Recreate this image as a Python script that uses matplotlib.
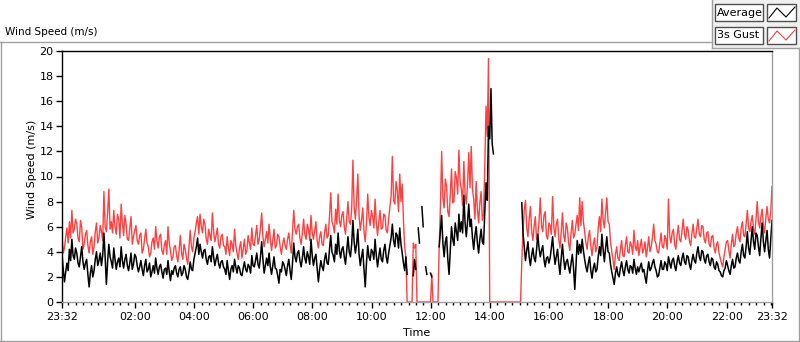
import numpy as np
import pandas as pd
import matplotlib
matplotlib.use("Agg")
import matplotlib.pyplot as plt
import matplotlib.dates as mdates
from matplotlib.ticker import FixedLocator
from matplotlib.lines import Line2D
from matplotlib.patches import Rectangle

nan = np.nan

# 2.5-minute samples, 23:32 -> 23:32 next day (one row per clock hour, :02 .. :59.5)
gust = [
    5.4, 3.9, 4.3, 5.2, 5.9, 4.7, 6.4, 5.1, 7.3, 5.5, 5.8, 6.6,  # 23:32
    6.2, 5.1, 4.8, 6.5, 5.9, 4.2, 4.6, 5.4, 5.7, 4.5, 3.9, 4.8,
    5.2, 3.8, 4.4, 5.6, 6.3, 4.7, 5.1, 6.1, 5.6, 4.9, 8.8, 6.0,  # 00
    5.6, 7.1, 9.0, 5.8, 6.4, 5.5, 7.3, 6.0, 5.4, 7.0, 6.6, 5.1,
    7.8, 6.3, 5.3, 6.9, 6.2, 5.0, 4.9, 5.9, 6.8, 4.6, 5.2, 5.7,  # 01
    6.1, 4.9, 4.6, 5.3, 5.5, 3.9, 4.2, 5.0, 5.8, 4.7, 4.4, 3.6,
    3.9, 4.8, 5.1, 4.2, 6.0, 4.9, 4.3, 5.2, 5.4, 4.1, 3.8, 4.5,  # 02
    4.9, 3.8, 6.0, 4.7, 4.1, 3.3, 3.6, 4.4, 4.5, 3.7, 3.2, 4.1,
    5.3, 3.9, 3.4, 4.6, 4.2, 3.5, 3.0, 4.3, 5.7, 4.4, 4.0, 5.1,  # 03
    5.6, 6.3, 6.8, 5.4, 7.0, 6.0, 5.5, 6.6, 6.2, 5.0, 4.6, 5.8,
    5.3, 4.9, 7.1, 5.6, 4.8, 5.3, 5.9, 4.6, 4.3, 5.2, 5.4, 4.5,  # 04
    4.4, 3.8, 5.2, 4.3, 3.7, 4.9, 4.6, 4.0, 5.8, 4.5, 3.9, 3.4,
    4.3, 4.8, 3.5, 4.2, 5.0, 3.8, 4.1, 5.3, 4.7, 4.2, 5.9, 4.6,  # 05
    4.5, 5.3, 6.1, 4.6, 5.0, 5.9, 7.1, 5.2, 4.4, 5.0, 5.6, 4.7,
    6.2, 5.0, 4.1, 4.9, 5.8, 4.3, 4.5, 5.4, 5.2, 4.4, 3.8, 4.6,  # 06
    5.1, 4.5, 4.2, 5.0, 5.5, 4.6, 3.9, 5.6, 7.3, 5.8, 5.4, 6.0,
    6.2, 5.1, 4.6, 5.5, 6.6, 5.4, 5.0, 6.2, 5.8, 4.9, 6.9, 5.5,  # 07
    5.0, 5.7, 6.4, 4.9, 4.3, 5.2, 5.6, 4.6, 4.5, 5.5, 6.2, 5.1,
    5.3, 6.8, 8.7, 6.4, 6.1, 5.5, 7.4, 6.2, 8.6, 6.5, 6.0, 6.9,  # 08
    7.2, 6.0, 5.4, 6.7, 8.0, 6.4, 6.2, 7.4, 11.3, 7.6, 6.6, 8.1,
    10.2, 6.9, 5.7, 6.5, 7.5, 5.6, 4.8, 6.2, 8.6, 6.8, 6.1, 7.3,  # 09
    6.8, 5.9, 8.2, 6.3, 5.3, 6.4, 7.3, 5.8, 5.9, 7.0, 6.9, 5.7,
    5.5, 6.6, 7.6, 8.4, 11.6, 8.1, 7.8, 9.6, 8.9, 7.2, 10.2, 8.0,  # 10
    9.4, 6.5, 4.4, 3.6, 0.0, 0.0, 0.0, 0.0, 0.0, 4.7, 4.3, 4.6,
    0.0, 0.0, 0.0, 0.0, 0.0, 0.0, 0.0, 0.0, 0.0, 0.0, 0.0, 0.0,  # 11
    2.2, 0.0, 0.0, 0.0, 0.0, 0.0, 4.4, 7.6, 12.0, 8.3, 7.5, 9.8,
    9.2, 7.2, 6.8, 8.5, 10.6, 7.9, 8.0, 10.4, 9.9, 8.6, 12.1, 9.5,  # 12
    9.0, 7.7, 11.2, 8.6, 7.8, 9.4, 11.9, 9.1, 12.4, 9.0, 8.2, 6.6,
    9.6, 7.4, 6.3, 7.9, 8.8, 6.5, 7.0, 10.8, 15.6, 13.2, 19.4, 0.0,  # 13
    0.0, 0.0, 0.0, 0.0, 0.0, 0.0, 0.0, 0.0, 0.0, 0.0, 0.0, 0.0,
    0.0, 0.0, 0.0, 0.0, 0.0, 0.0, 0.0, 0.0, 0.0, 0.0, 0.0, 0.0,  # 14
    0.0, 3.2, 5.5, 7.4, 8.1, 5.9, 5.2, 6.6, 7.6, 5.7, 4.9, 6.0,
    6.8, 5.0, 5.3, 6.4, 8.3, 6.1, 5.6, 6.9, 7.2, 5.3, 5.0, 6.3,  # 15
    6.1, 5.4, 8.4, 6.0, 5.2, 6.2, 6.6, 5.0, 4.3, 5.6, 7.1, 5.3,
    4.8, 6.3, 5.9, 4.7, 4.1, 5.5, 6.5, 5.1, 5.4, 6.2, 6.9, 5.7,  # 16
    8.3, 6.1, 8.0, 6.4, 5.6, 4.7, 4.2, 5.2, 5.7, 4.5, 3.7, 4.6,
    5.1, 4.0, 4.4, 5.9, 6.8, 5.6, 8.2, 6.6, 5.9, 7.1, 8.3, 6.4,  # 17
    6.2, 4.8, 4.0, 3.4, 2.6, 3.8, 4.4, 3.5, 3.3, 4.2, 4.9, 3.7,
    3.6, 4.5, 5.2, 4.0, 3.9, 4.8, 4.5, 3.8, 5.7, 4.4, 4.1, 4.9,  # 18
    3.7, 4.4, 5.0, 3.9, 4.2, 4.8, 3.6, 4.3, 5.2, 4.0, 4.4, 5.1,
    6.2, 4.9, 4.6, 4.0, 3.9, 4.7, 5.5, 4.4, 4.3, 5.3, 5.0, 4.2,  # 19
    8.2, 5.3, 4.7, 5.5, 5.8, 4.6, 4.2, 5.3, 6.1, 5.0, 4.8, 5.7,
    6.6, 5.4, 5.0, 6.0, 5.7, 4.9, 4.5, 5.4, 6.2, 5.2, 5.1, 5.9,  # 20
    6.6, 5.4, 5.2, 6.1, 6.0, 5.0, 4.7, 5.5, 5.6, 4.6, 4.4, 5.2,
    5.3, 4.3, 3.9, 4.6, 4.8, 3.9, 3.5, 3.1, 2.8, 3.6, 4.2, 4.8,  # 21
    4.9, 4.1, 3.5, 4.6, 5.4, 4.4, 4.6, 5.5, 6.0, 5.1, 4.8, 5.9,
    6.4, 5.3, 5.2, 6.2, 7.3, 5.9, 5.6, 6.4, 6.9, 5.8, 5.4, 6.6,  # 22
    8.0, 6.4, 5.9, 6.8, 7.4, 6.1, 5.5, 6.7, 7.6, 6.6, 6.3, 7.2,
    9.2,                                                         # 23
]

average = [
    3.8, 2.6, 1.6, 2.4, 3.1, 2.5, 4.2, 3.3, 5.0, 3.7, 3.4, 4.3,  # 23:32
    3.9, 3.1, 2.8, 3.6, 4.4, 3.2, 2.6, 3.1, 3.4, 2.2, 1.2, 2.3,
    2.9, 2.0, 2.5, 3.4, 4.0, 2.9, 3.3, 3.9, 2.9, 3.7, 5.5, 3.6,  # 00
    1.4, 3.2, 4.6, 3.6, 3.2, 2.7, 4.3, 3.4, 2.6, 3.2, 3.5, 2.8,
    4.4, 3.3, 2.7, 3.4, 3.8, 2.9, 2.5, 3.1, 3.9, 2.6, 3.0, 3.8,  # 01
    3.6, 2.9, 2.4, 2.8, 3.3, 2.6, 2.1, 2.9, 3.4, 2.4, 2.6, 3.1,
    2.0, 2.4, 2.9, 2.3, 3.5, 2.7, 2.2, 2.8, 3.0, 2.4, 1.9, 2.6,  # 02
    2.7, 2.2, 3.3, 2.4, 1.7, 2.5, 2.2, 2.7, 2.9, 2.3, 2.0, 2.6,
    2.8, 2.1, 2.3, 2.9, 2.6, 2.0, 1.8, 2.4, 3.2, 2.6, 2.5, 3.4,  # 03
    3.9, 4.4, 5.1, 3.8, 4.6, 4.0, 3.5, 4.1, 4.2, 3.4, 3.0, 3.6,
    3.7, 3.2, 4.4, 3.6, 2.9, 3.4, 3.8, 3.1, 2.7, 3.2, 3.3, 2.8,  # 04
    2.6, 2.2, 3.3, 2.5, 1.8, 2.6, 2.9, 2.4, 3.4, 2.8, 2.3, 2.9,
    2.7, 2.2, 2.1, 2.7, 3.2, 2.6, 2.4, 3.0, 2.8, 2.3, 3.7, 2.9,  # 05
    2.8, 3.3, 3.9, 3.0, 2.7, 3.6, 4.8, 3.4, 2.3, 2.9, 3.5, 2.9,
    3.9, 2.8, 2.2, 2.9, 3.6, 2.7, 2.6, 2.1, 1.5, 2.6, 2.4, 3.2,  # 06
    3.0, 2.6, 2.1, 2.9, 3.4, 2.5, 1.8, 3.1, 4.7, 3.6, 3.2, 3.9,
    4.1, 3.3, 2.8, 3.5, 4.4, 3.5, 3.1, 4.0, 3.6, 3.0, 5.0, 3.7,  # 07
    2.9, 3.5, 3.8, 2.7, 1.6, 2.6, 3.3, 2.8, 2.5, 3.4, 3.9, 3.1,
    3.0, 4.2, 5.3, 4.0, 3.7, 3.2, 4.6, 3.8, 5.5, 4.1, 3.5, 4.2,  # 08
    4.4, 3.6, 3.0, 4.1, 5.2, 4.0, 3.6, 4.6, 6.5, 4.8, 3.9, 4.6,
    5.8, 3.8, 2.9, 3.6, 4.2, 2.6, 1.2, 3.1, 4.5, 3.6, 3.3, 4.2,  # 09
    4.0, 3.4, 5.0, 3.7, 2.8, 3.6, 4.3, 3.4, 3.2, 4.1, 4.6, 3.6,
    3.1, 3.9, 4.5, 5.1, 6.2, 4.9, 4.4, 5.5, 5.3, 4.3, 5.9, 4.6,  # 10
    3.9, 3.1, 2.5, 3.6, 2.2, nan, nan, nan, nan, 2.1, 3.4, 2.6,
    nan, 5.9, 4.7, nan, 7.6, 6.0, nan, 2.8, 2.2, nan, nan, 2.3,  # 11
    2.0, nan, nan, nan, nan, nan, 4.4, 5.6, 6.9, 4.7, 3.6, 4.8,
    5.2, 3.4, 2.2, 4.1, 6.0, 5.0, 4.5, 6.3, 5.6, 4.9, 7.0, 5.6,  # 12
    6.4, 5.5, 8.5, 6.3, 5.2, 6.4, 7.8, 6.0, 6.6, 5.1, 4.2, 5.3,
    6.0, 4.7, 3.9, 5.0, 5.8, 4.8, 4.6, 7.2, 9.5, 8.1, 14.0, 13.0,  # 13
    17.0, 12.6, 11.8, nan, nan, nan, nan, nan, nan, nan, nan, nan,
    nan, nan, nan, nan, nan, nan, nan, nan, nan, nan, nan, nan,  # 14
    nan, 7.9, 5.5, 4.4, 3.3, 4.1, 4.8, 3.6, 2.9, 3.7, 4.3, 3.5,
    3.2, 4.2, 5.4, 4.3, 3.6, 4.1, 4.5, 3.4, 2.8, 3.5, 3.6, 3.1,  # 15
    3.5, 4.3, 5.2, 3.9, 3.0, 3.6, 4.2, 3.1, 2.2, 3.5, 4.6, 3.4,
    2.6, 3.2, 3.4, 2.8, 2.3, 3.1, 3.8, 2.7, 1.0, 3.0, 4.9, 3.8,  # 16
    4.6, 3.9, 5.0, 4.1, 3.4, 2.8, 2.4, 3.1, 3.6, 2.5, 1.9, 2.7,
    3.1, 2.4, 2.6, 3.6, 4.4, 3.7, 5.4, 4.2, 3.2, 4.3, 5.2, 4.0,  # 17
    3.9, 3.0, 2.4, 1.9, 1.4, 2.3, 2.8, 2.2, 2.0, 2.7, 3.2, 2.5,
    2.1, 2.8, 3.3, 2.6, 2.3, 2.9, 2.8, 2.3, 3.4, 2.7, 2.2, 2.8,  # 18
    2.4, 2.8, 3.1, 2.4, 2.6, 2.0, 1.5, 2.5, 3.2, 2.5, 2.7, 3.1,
    3.4, 2.8, 2.5, 2.0, 2.1, 2.7, 3.3, 2.6, 2.6, 3.2, 3.0, 2.5,  # 19
    3.6, 3.1, 2.7, 3.3, 3.5, 2.9, 2.5, 3.2, 3.7, 3.1, 2.9, 3.5,
    3.9, 3.2, 3.0, 3.7, 3.6, 3.0, 2.6, 3.3, 3.8, 3.3, 3.1, 3.9,  # 20
    4.4, 3.6, 3.3, 4.1, 4.0, 3.4, 3.1, 3.7, 3.8, 3.2, 2.9, 3.5,
    3.4, 2.8, 2.6, 3.2, 3.0, 2.5, 2.4, 2.1, 2.0, 2.5, 2.7, 3.3,  # 21
    2.9, 2.5, 2.2, 2.9, 3.4, 2.7, 2.8, 3.5, 3.9, 3.3, 3.1, 4.0,
    4.6, 3.7, 3.5, 4.4, 5.6, 4.3, 3.8, 4.9, 6.0, 4.8, 4.2, 5.5,  # 22
    5.3, 4.4, 3.7, 5.1, 6.3, 4.8, 4.0, 4.9, 5.7, 4.2, 3.5, 5.0,
    6.5,                                                         # 23
]

series_names = ["Average", "3s Gust"]
series_colors = ["black", "#ff4040"]

start = pd.Timestamp("2020-01-01 23:32")
times = pd.date_range(start, periods=len(gust), freq="150s")
end = times[-1]
major_ticks = [start] + list(pd.date_range("2020-01-02 02:00", "2020-01-02 22:00", freq="2h")) + [end]

W, H = 800, 342
FRAME = "#a0a0a0"
plt.rcParams["font.family"] = ["DejaVu Sans"]
plt.rcParams["font.size"] = 8


def fx(px):
    return px / W


def fy(py):
    return 1 - py / H


fig = plt.figure(figsize=(W / 100, H / 100), dpi=100)
fig.patch.set_facecolor("white")

ax = fig.add_axes([fx(62), fy(302), 710 / W, 251 / H])
ax.plot(times, gust, color=series_colors[1], lw=1.0)
ax.plot(times, average, color=series_colors[0], lw=1.1)

ax.set_xlim(start, end)
ax.set_ylim(0, 20)
ax.set_yticks(np.arange(0, 21, 2))
ax.xaxis.set_major_locator(FixedLocator(mdates.date2num(major_ticks)))
ax.xaxis.set_major_formatter(mdates.DateFormatter("%H:%M"))
ax.xaxis.set_minor_locator(mdates.MinuteLocator(byminute=[0, 15, 30, 45]))

for side in ["top", "left"]:
    ax.spines[side].set_color("black")
for side in ["bottom", "right"]:
    ax.spines[side].set_color(FRAME)
for sp in ax.spines.values():
    sp.set_linewidth(1.0)

ax.tick_params(axis="both", which="major", direction="out", length=4, width=1,
               colors="black", pad=2)
ax.tick_params(axis="x", which="minor", direction="out", length=2, width=1, colors="black")
ax.tick_params(axis="x", pad=3)

ax.set_ylabel("Wind Speed (m/s)", fontsize=8)
ax.yaxis.set_label_coords(-0.035, 0.53)
ax.set_xlabel("Time", fontsize=8)
ax.xaxis.set_label_coords(0.5, -0.104)

# outer frame, caption and legend panel
fig.add_artist(Rectangle((fx(712), fy(48)), 88 / W, 48 / H, facecolor="#f0f0f0",
                         edgecolor="none"))
fig.add_artist(Line2D([fx(0), fx(712)], [fy(42), fy(42)], color=FRAME, lw=1))
fig.add_artist(Line2D([fx(0.5), fx(0.5)], [fy(42), fy(341)], color=FRAME, lw=1))
fig.add_artist(Line2D([fx(0), fx(800)], [fy(341), fy(341)], color=FRAME, lw=1))
fig.add_artist(Line2D([fx(798.5), fx(798.5)], [fy(48), fy(341)], color=FRAME, lw=1))
fig.add_artist(Line2D([fx(712), fx(800)], [fy(48), fy(48)], color=FRAME, lw=1))
fig.add_artist(Line2D([fx(712), fx(712)], [fy(0), fy(48)], color=FRAME, lw=1))
fig.text(fx(5), fy(32), "Wind Speed (m/s)", fontsize=7.5, va="center", ha="left")

# LabVIEW-style plot legend
for row, (name, col) in enumerate(zip(series_names, series_colors)):
    top = 4 + row * 23
    fig.add_artist(Rectangle((fx(715), fy(top + 17)), 48 / W, 17 / H, facecolor="white",
                             edgecolor="#505050", lw=1))
    fig.add_artist(Rectangle((fx(767), fy(top + 17)), 29 / W, 17 / H, facecolor="white",
                             edgecolor="#505050", lw=1))
    fig.text(fx(717), fy(top + 8.5), name, fontsize=8, va="center", ha="left")
    zx = [769, 777, 786, 795]
    zy = [top + 14, top + 4, top + 13, top + 3]
    fig.add_artist(Line2D([fx(v) for v in zx], [fy(v) for v in zy], color=col, lw=0.8))

fig.savefig("out.png", dpi=100)
